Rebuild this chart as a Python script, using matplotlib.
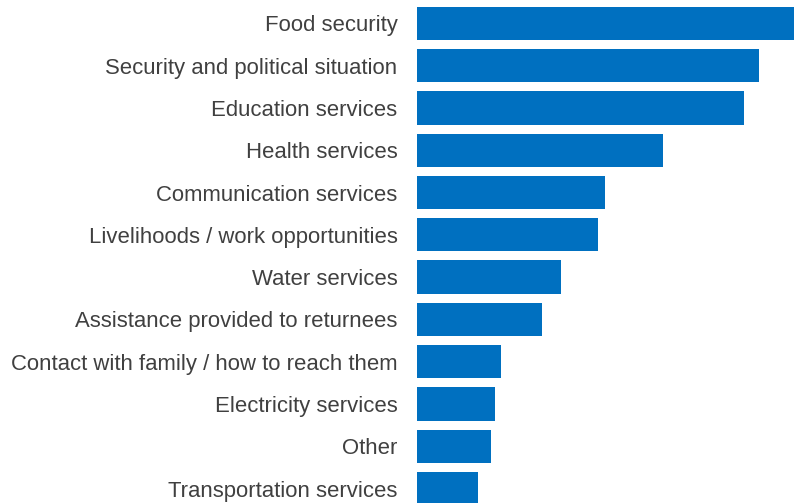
import matplotlib
matplotlib.use("Agg")
import matplotlib.pyplot as plt

categories = [
    "Food security",
    "Security and political situation",
    "Education services",
    "Health services",
    "Communication services",
    "Livelihoods / work opportunities",
    "Water services",
    "Assistance provided to returnees",
    "Contact with family / how to reach them",
    "Electricity services",
    "Other",
    "Transportation services",
]
values = [62.0, 56.3, 53.8, 40.5, 30.9, 29.8, 23.7, 20.5, 13.8, 12.8, 12.2, 10.0]

W, H = 794, 503
fig = plt.figure(figsize=(W / 100, H / 100), dpi=100)
ax = fig.add_axes([417 / W, 0, (W - 417) / W, 1])

ypos = list(range(len(categories)))
ax.barh(ypos, values, height=0.787, color="#0070C0")

ax.set_xlim(0, 62.0)
ax.set_ylim(11.34, -0.551)
ax.set_yticks(ypos)
ax.set_yticklabels(categories, fontsize=15.9, color="#404040",
                   family=["Liberation Sans", "DejaVu Sans"])
ax.tick_params(axis="y", length=0, pad=14)
ax.set_xticks([])
for s in ax.spines.values():
    s.set_visible(False)

fig.savefig("out.png", dpi=100)
